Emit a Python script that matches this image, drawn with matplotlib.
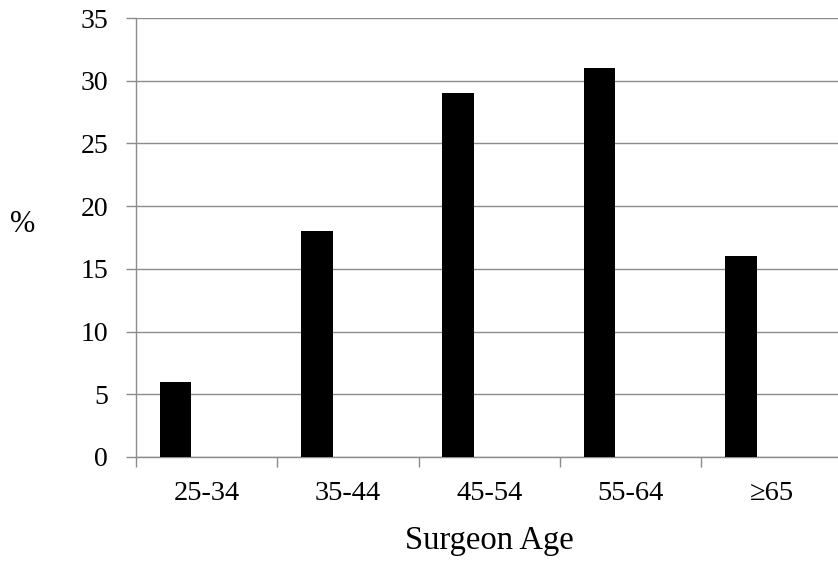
import matplotlib.pyplot as plt

ages = ['25-34', '35-44', '45-54', '55-64', '\u226565']
percent = [6, 18, 29, 31, 16]

plt.rcParams['font.family'] = ['Liberation Serif', 'DejaVu Serif']
grid_color = '#8c8c8c'

dpi = 100
fig = plt.figure(figsize=(838/dpi, 563/dpi), dpi=dpi)
ax = fig.add_axes([136/838, 1 - 457/563, (842.7 - 136)/838, (457 - 18)/563])

x = list(range(len(ages)))
# first series of a two-series cluster: bars sit in the left part of each slot
bar_pos = [i - 0.221 for i in x]
ax.bar(bar_pos, percent, width=0.224, color='black', zorder=3)

ax.set_xlim(-0.5, len(ages) - 0.5)
ax.set_ylim(0, 35)
ax.set_yticks(range(0, 36, 5))
ax.yaxis.grid(True, color=grid_color, linewidth=1.0, zorder=0)

ax.set_xticks([i - 0.5 for i in x])
ax.set_xticklabels([])
ax.set_xticks(x, minor=True)
ax.set_xticklabels(ages, minor=True)

ax.tick_params(axis='y', length=7, width=1, color=grid_color, labelsize=20, pad=13)
ax.tick_params(axis='x', which='major', length=7, width=1, color=grid_color)
ax.tick_params(axis='x', which='minor', length=0, labelsize=20.5, pad=17)

for s in ['top', 'right']:
    ax.spines[s].set_visible(False)
for s in ['left', 'bottom']:
    ax.spines[s].set_color(grid_color)
    ax.spines[s].set_linewidth(1.0)

ax.set_xlabel('Surgeon Age', fontsize=23.5, labelpad=14)
fig.text(23/838, 1 - 224/563, '%', fontsize=22, ha='center', va='center')

plt.savefig('out.png', dpi=dpi)
